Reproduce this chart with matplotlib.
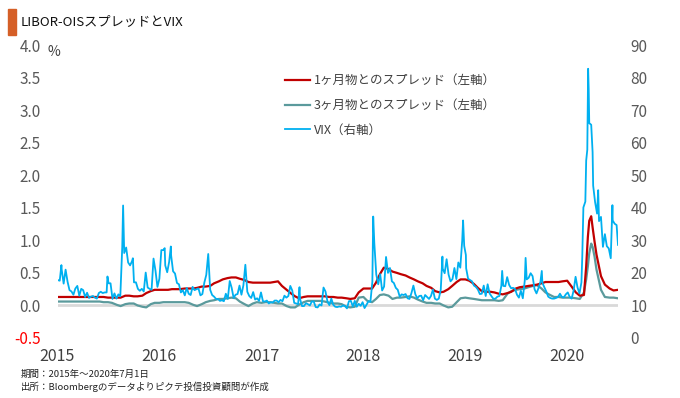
import matplotlib
matplotlib.use("Agg")
import matplotlib.pyplot as plt
import numpy as np
import pandas as pd
from matplotlib.patches import Rectangle

plt.rcParams["font.family"] = ["Noto Sans CJK JP", "DejaVu Sans"]

libor_1m = [
    0.13, 0.13, 0.13, 0.13, 0.13, 0.13, 0.13, 0.13, 0.13, 0.13, 0.13, 0.13,
    0.12, 0.12, 0.12, 0.12, 0.15, 0.15, 0.14, 0.14, 0.15, 0.19, 0.22, 0.24,
    0.24, 0.24, 0.24, 0.25, 0.25, 0.25, 0.26, 0.26, 0.26, 0.27, 0.29, 0.29,
    0.30, 0.34, 0.37, 0.40, 0.42, 0.43, 0.43, 0.41, 0.39, 0.36, 0.35, 0.35,
    0.35, 0.35, 0.35, 0.36, 0.37, 0.30, 0.24, 0.19, 0.14, 0.11, 0.13, 0.14,
    0.14, 0.14, 0.14, 0.14, 0.13, 0.13, 0.12, 0.12, 0.11, 0.10, 0.11, 0.20,
    0.26, 0.26, 0.26, 0.35, 0.48, 0.58, 0.56, 0.52, 0.50, 0.48, 0.46, 0.43,
    0.40, 0.37, 0.34, 0.30, 0.27, 0.22, 0.20, 0.21, 0.25, 0.30, 0.36, 0.40,
    0.40, 0.38, 0.33, 0.27, 0.22, 0.21, 0.21, 0.20, 0.18, 0.17, 0.19, 0.21,
    0.26, 0.28, 0.29, 0.30, 0.31, 0.32, 0.34, 0.36, 0.36, 0.36, 0.36, 0.37,
    0.38, 0.30, 0.20, 0.15, 0.16, 1.05, 1.20, 0.78, 0.45, 0.32, 0.26, 0.23, 0.24,
]
libor_3m = [
    0.06, 0.06, 0.06, 0.06, 0.06, 0.06, 0.06, 0.06, 0.06, 0.06, 0.06, 0.05,
    0.05, 0.04, 0.01, -0.01, 0.02, 0.03, 0.03, 0.00, -0.02, -0.03, 0.02, 0.04,
    0.04, 0.05, 0.05, 0.05, 0.05, 0.05, 0.05, 0.04, 0.01, -0.01, 0.02, 0.05,
    0.07, 0.08, 0.10, 0.10, 0.11, 0.12, 0.11, 0.06, 0.02, -0.01, 0.03, 0.05,
    0.04, 0.05, 0.05, 0.04, 0.03, 0.03, -0.01, -0.03, -0.03, 0.01, 0.05, 0.07,
    0.07, 0.07, 0.07, 0.06, 0.04, 0.03, 0.03, 0.02, -0.02, -0.03, -0.02, 0.12,
    0.13, 0.07, 0.05, 0.10, 0.16, 0.17, 0.15, 0.10, 0.12, 0.12, 0.13, 0.14,
    0.12, 0.09, 0.06, 0.04, 0.04, 0.03, 0.03, 0.00, -0.03, -0.02, 0.05, 0.11,
    0.12, 0.11, 0.10, 0.09, 0.08, 0.08, 0.08, 0.08, 0.07, 0.08, 0.18, 0.22,
    0.24, 0.25, 0.26, 0.28, 0.30, 0.31, 0.26, 0.20, 0.16, 0.13, 0.13, 0.12,
    0.12, 0.12, 0.11, 0.10, 0.20, 0.60, 0.90, 0.55, 0.24, 0.13, 0.12, 0.12, 0.11,
]
# extra points around the March 2020 spike
spread_extra_dates = ["2020-03-09", "2020-03-20", "2020-03-27", "2020-04-08"]
libor_1m_extra = [0.60, 1.30, 1.37, 0.98]
libor_3m_extra = [0.40, 0.80, 0.95, 0.75]

# VIX weekly (Friday) values per year
vix_2015 = [
    17.8, 17.6, 21.0, 16.7, 21.0, 17.3, 14.7, 14.3, 13.3, 15.2, 16.0, 13.0, 15.1,
    14.7, 12.6, 13.9, 12.3, 12.7, 12.9, 12.4, 12.1, 13.8, 14.2, 13.8, 14.0, 14.0,
    16.8, 16.8, 12.0, 13.7, 12.1, 13.4, 12.8, 28.0, 26.1, 27.8, 23.2, 22.3, 23.6,
    17.1, 17.1, 15.1, 14.5, 15.1, 14.3, 20.1, 15.5, 15.1, 14.8, 24.4, 20.7, 15.7,
]
vix_2016 = [
    18.2, 27.0, 27.0, 22.3, 20.2, 23.4, 25.4, 20.5, 19.8, 16.9, 16.5, 14.0, 14.7,
    13.1, 15.4, 13.6, 13.2, 15.7, 14.7, 15.0, 15.2, 13.1, 13.5, 17.0, 19.4, 25.8,
    14.8, 13.2, 12.7, 12.0, 12.0, 11.4, 11.6, 11.3, 13.6, 12.0, 17.5, 15.4, 12.3,
    13.3, 13.5, 16.1, 13.3, 16.2, 22.5, 14.2, 12.9, 12.3, 14.1, 11.8, 12.2, 11.4,
    14.0,
]
vix_2017 = [
    11.3, 11.2, 11.5, 10.6, 11.0, 10.9, 11.5, 11.5, 11.0, 11.7, 11.3, 13.0, 12.4,
    12.9, 16.0, 14.6, 10.8, 10.6, 10.4, 12.0, 9.8, 9.8, 10.7, 10.4, 10.0, 11.2,
    11.2, 9.5, 9.4, 10.3, 10.0, 15.5, 14.3, 11.3, 10.1, 12.1, 10.2, 9.6, 9.5,
    9.7, 9.6, 10.0, 9.8, 9.1, 11.3, 11.4, 9.7, 11.4, 9.6, 10.5, 9.9, 11.0,
]
vix_2018 = [
    9.2, 10.2, 11.3, 11.1, 17.3, 29.1, 19.5, 16.5, 19.6, 14.6, 15.8, 24.9, 20.0,
    21.5, 17.4, 16.9, 15.4, 14.8, 12.7, 13.4, 13.2, 13.5, 12.2, 12.0, 13.8, 16.1,
    13.4, 12.2, 12.9, 13.0, 11.6, 13.2, 12.6, 12.0, 12.9, 14.9, 12.1, 11.7, 12.1,
    14.8, 21.3, 19.9, 24.2, 19.5, 17.4, 18.1, 21.5, 18.1, 23.2, 21.6, 30.1, 28.3,
]
vix_2019 = [
    21.4, 18.2, 17.8, 17.4, 16.1, 15.7, 14.9, 13.5, 13.6, 16.1, 12.9, 16.5, 13.7,
    12.8, 12.0, 12.1, 12.7, 12.9, 16.0, 16.0, 15.9, 18.7, 16.3, 15.3, 15.4, 15.1,
    13.3, 12.4, 14.5, 12.2, 17.6, 18.0, 18.5, 19.9, 19.0, 15.0, 13.7, 15.3, 17.2,
    17.0, 15.6, 14.3, 12.7, 12.3, 12.1, 12.1, 12.3, 12.6, 13.6, 12.6, 12.5, 13.4,
]
vix_2020 = [
    14.0, 12.6, 12.1, 14.6, 18.8, 15.5, 13.7, 17.1, 40.1, 41.9, 57.8, 66.0, 65.5,
    46.8, 41.7, 38.2, 35.9, 37.2, 28.0, 31.9, 28.2, 27.5, 24.5, 36.1, 35.1, 34.7,
]
vix_first_friday = ["2015-01-02", "2016-01-01", "2017-01-06",
                    "2018-01-05", "2019-01-04", "2020-01-03"]
# daily spikes the weekly values miss
vix_extra_dates = [
    "2015-01-15", "2015-06-29", "2015-08-24", "2015-09-28", "2016-01-20",
    "2016-02-11", "2017-05-17", "2018-02-05", "2018-10-11", "2018-12-24",
    "2019-01-03", "2019-05-13", "2019-08-05", "2019-10-02", "2020-02-24",
    "2020-03-09", "2020-03-16", "2020-03-18", "2020-04-01", "2020-04-21",
    "2020-06-11", "2020-07-01",
]
vix_extra_values = [
    22.4, 18.9, 40.7, 24.5, 27.6,
    28.1, 15.6, 37.3, 25.0, 36.1,
    25.5, 20.6, 24.6, 20.6, 25.0,
    54.5, 82.7, 76.5, 57.1, 45.4,
    40.8, 28.6,
]

year_ticks = ["2015", "2016", "2017", "2018", "2019", "2020"]
left_ticks = [-0.5, 0.0, 0.5, 1.0, 1.5, 2.0, 2.5, 3.0, 3.5, 4.0]
right_ticks = [0, 10, 20, 30, 40, 50, 60, 70, 80, 90]
labels = ["1ヶ月物とのスプレッド（左軸）", "3ヶ月物とのスプレッド（左軸）", "VIX（右軸）"]

# build series
spread_idx = pd.date_range("2015-01-01", "2020-07-01", freq="SMS")
extra_idx = pd.to_datetime(spread_extra_dates)
s1 = pd.concat([pd.Series(libor_1m, index=spread_idx),
                pd.Series(libor_1m_extra, index=extra_idx)]).sort_index()
s3 = pd.concat([pd.Series(libor_3m, index=spread_idx),
                pd.Series(libor_3m_extra, index=extra_idx)]).sort_index()

parts = []
for start, vals in zip(vix_first_friday,
                       [vix_2015, vix_2016, vix_2017, vix_2018, vix_2019, vix_2020]):
    parts.append(pd.Series(vals, index=pd.date_range(start, periods=len(vals), freq="7D")))
parts.append(pd.Series(vix_extra_values, index=pd.to_datetime(vix_extra_dates)))
vix = pd.concat(parts).sort_index()

RED = "#C00000"
TEAL = "#5B9A9C"
BLUE = "#00B0F0"
GREY_TXT = "#595959"

fig = plt.figure(figsize=(6.8, 3.98), dpi=100)
ax = fig.add_axes([57.5 / 680, 1 - 338 / 398, (618 - 57.5) / 680, (338 - 45) / 398])
ax2 = ax.twinx()

ax.axhline(0, color="#D9D9D9", lw=2.0, zorder=1)
l1, = ax.plot(s1.index, s1.values, color=RED, lw=1.6, zorder=3)
l3, = ax.plot(s3.index, s3.values, color=TEAL, lw=1.6, zorder=2)
lv, = ax2.plot(vix.index, vix.values, color=BLUE, lw=1.3)

xmin, xmax = pd.Timestamp("2015-01-01"), pd.Timestamp("2020-07-01")
ax.set_xlim(xmin, xmax)
ax.set_ylim(-0.5, 4.0)
ax2.set_ylim(0, 90)

ax.set_xticks(pd.to_datetime([y + "-01-01" for y in year_ticks]))
ax.set_xticklabels(year_ticks, fontsize=11.5, color="#404040")
ax.set_yticks(left_ticks)
ax.set_yticklabels([f"{v:.1f}" for v in left_ticks], fontsize=11, color=GREY_TXT)
ax.get_yticklabels()[0].set_color("#FF0000")
ax2.set_yticks(right_ticks)
ax2.set_yticklabels([str(v) for v in right_ticks], fontsize=11, color=GREY_TXT)

ax.tick_params(axis="x", length=0, pad=7)
ax.tick_params(axis="y", length=0, pad=12)
ax2.tick_params(axis="y", length=0, pad=9)
for a in (ax, ax2):
    for sp in a.spines.values():
        sp.set_visible(False)

ax2.legend([l1, l3, lv], labels, loc="upper left", bbox_to_anchor=(285 / 680, 1 - 74 / 398),
           bbox_transform=fig.transFigure, frameon=False, fontsize=9,
           handlelength=2.0, handletextpad=0.3, labelspacing=0.95,
           borderpad=0, borderaxespad=0, labelcolor="#404040")

fig.text(48 / 680, 1 - 52 / 398, "%", fontsize=10, color="#404040", va="center")

fig.patches.append(Rectangle((8 / 680, 1 - 35 / 398), 8 / 680, 26 / 398,
                             transform=fig.transFigure, color="#D55F27"))
fig.text(21 / 680, 1 - 22 / 398, "LIBOR-OISスプレッドとVIX", fontsize=9.5,
         color="#111111", va="center")

fig.text(21 / 680, 1 - 374 / 398, "期間：2015年～2020年7月1日", fontsize=6.8,
         color="#222222", va="center")
fig.text(21 / 680, 1 - 387 / 398, "出所：Bloombergのデータよりピクテ投信投資顧問が作成",
         fontsize=6.8, color="#222222", va="center")

fig.savefig("out.png", dpi=100)
